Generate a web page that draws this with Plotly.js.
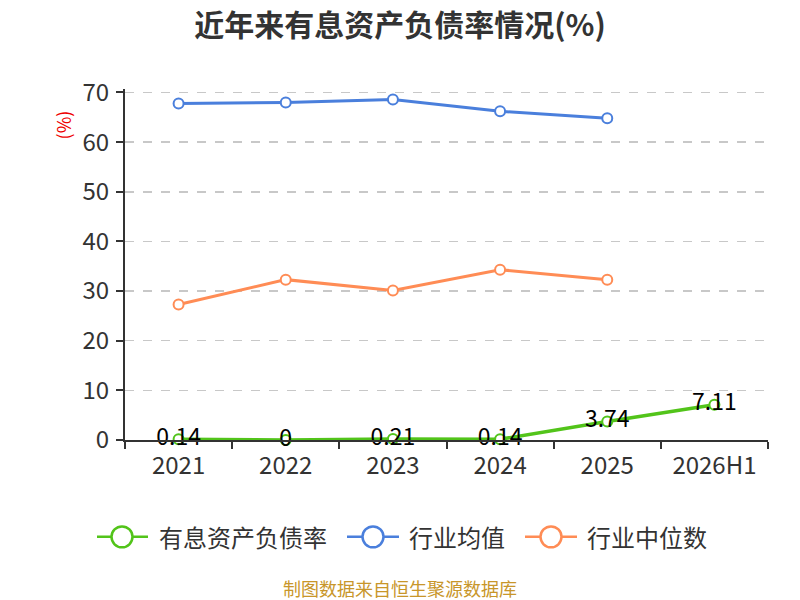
<!DOCTYPE html>
<html><head><meta charset="utf-8">
<script src="https://cdn.plot.ly/plotly-3.0.1.min.js"></script>
<style>html,body{margin:0;padding:0;background:#fff}#c{width:800px;height:600px}</style>
</head><body><div id="c"></div>
<script>
const categories = ['2021','2022','2023','2024','2025','2026H1'];
const debtRatio = [0.14, 0, 0.21, 0.14, 3.74, 7.11];
const debtLabels = ['0.14','0','0.21','0.14','3.74','7.11'];
const industryMean = [67.8, 68.0, 68.6, 66.2, 64.8];
const industryMedian = [27.3, 32.3, 30.1, 34.3, 32.3];
const yTicks = [0,10,20,30,40,50,60,70];
const seriesNames = ['有息资产负债率','行业均值','行业中位数'];
const seriesColors = ['#52c41a','#4a7fdc','#ff8c55'];

const F = '"Noto Sans CJK SC", "Noto Sans", sans-serif';
const mk = c => ({symbol:'circle', size:10, color:'#fff', line:{color:c, width:2}});

const traces = [
  {x:categories, y:debtRatio, name:seriesNames[0], mode:'lines+markers+text',
   text:debtLabels, textposition:'middle center', textfont:{size:23,color:'#000',family:F},
   line:{color:seriesColors[0], width:3.5}, marker:mk(seriesColors[0]), cliponaxis:false, showlegend:false},
  {x:categories.slice(0,5), y:industryMean, name:seriesNames[1], mode:'lines+markers',
   line:{color:seriesColors[1], width:3}, marker:mk(seriesColors[1]), cliponaxis:false, showlegend:false},
  {x:categories.slice(0,5), y:industryMedian, name:seriesNames[2], mode:'lines+markers',
   line:{color:seriesColors[2], width:3}, marker:mk(seriesColors[2]), cliponaxis:false, showlegend:false}
];

// plot area in pixels
const PL=125, PR=768, PT=88.5, PB=440;
const px = v => (v-PL)/(PR-PL);
const py = v => (PB-v)/(PB-PT);

// manual legend (layout decoration)
const legendItems = [
  {lx0:97, lx1:148, cx:122, tx:157},
  {lx0:347, lx1:399, cx:373, tx:407},
  {lx0:525, lx1:577, cx:551, tx:585}
];
const LY=537, R=10.5;
const shapes=[], annotations=[];
legendItems.forEach((it,i)=>{
  shapes.push({type:'line', xref:'paper', yref:'paper', x0:px(it.lx0), x1:px(it.lx1), y0:py(LY), y1:py(LY),
    line:{color:seriesColors[i], width:2.5}});
  shapes.push({type:'circle', xref:'paper', yref:'paper', x0:px(it.cx-R), x1:px(it.cx+R), y0:py(LY+R), y1:py(LY-R),
    fillcolor:'#fff', line:{color:seriesColors[i], width:2.5}});
  annotations.push({text:seriesNames[i], xref:'paper', yref:'paper', x:px(it.tx), y:py(LY), xanchor:'left', yanchor:'middle',
    showarrow:false, font:{size:24, color:'#333', family:F}});
});
annotations.push({text:'(%)', xref:'paper', yref:'paper', x:px(63), y:py(125), xanchor:'center', yanchor:'middle',
  textangle:-90, showarrow:false, font:{size:18, color:'#e00', family:F}});
annotations.push({text:'制图数据来自恒生聚源数据库', xref:'paper', yref:'paper', x:px(400), y:py(588), xanchor:'center', yanchor:'middle',
  showarrow:false, font:{size:18, color:'#c8962a', family:F}});

const layout = {
  width:800, height:600,
  margin:{l:PL, r:800-PR, t:PT, b:600-PB},
  paper_bgcolor:'#fff', plot_bgcolor:'#fff',
  font:{family:F, color:'#333'},
  showlegend:false,
  title:{text:'<b>近年来有息资产负债率情况(%)</b>', font:{size:30, color:'#333', family:F}, x:0.5, xanchor:'center', y:0.958, yanchor:'middle'},
  xaxis:{type:'category', categoryarray:categories, range:[-0.5,5.5], showgrid:false, zeroline:false,
    showline:true, linecolor:'#333', linewidth:2, ticks:'outside', ticklen:7, tickcolor:'#333', tickwidth:2,
    ticklabelstandoff:3,
    tickson:'boundaries', tickfont:{size:24, color:'#333', family:F}, fixedrange:true},
  yaxis:{range:[0,70.7], tickvals:yTicks, showgrid:true, gridcolor:'#c8c8c8', griddash:'dash', gridwidth:1.5,
    zeroline:false, showline:true, linecolor:'#333', linewidth:2, ticks:'outside', ticklen:7, tickcolor:'#333', tickwidth:2,
    ticklabelstandoff:2,
    tickfont:{size:24, color:'#333', family:F}, fixedrange:true},
  shapes:shapes,
  annotations:annotations
};
Plotly.newPlot('c', traces, layout, {displayModeBar:false, staticPlot:true});
</script></body></html>
